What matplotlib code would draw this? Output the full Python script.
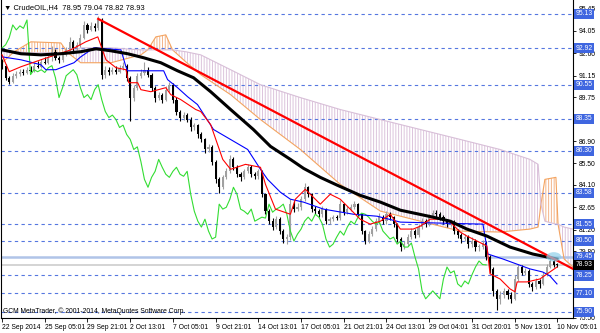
import matplotlib.pyplot as plt
from matplotlib.patches import Ellipse
from matplotlib.transforms import blended_transform_factory
import numpy as np

# H4 candles, bar index 0 = 22 Sep 2014
closes = [
    91.79, 91.01, 90.76, 91.14, 91.27, 91.40, 91.30, 91.53, 91.45, 91.79,
    91.70, 92.04, 91.95, 92.36, 92.69, 92.30, 92.17, 92.49, 92.81, 93.33,
    92.94, 93.14, 93.59, 94.42, 94.10, 94.36, 94.20, 94.74, 91.21, 91.53,
    91.40, 91.53, 91.35, 91.66, 91.79, 91.01, 89.73, 90.37, 91.14, 91.34,
    91.53, 91.21, 90.37, 89.73, 89.92, 89.60, 90.24, 90.56, 89.60, 88.83,
    88.44, 88.60, 88.31, 87.80, 87.95, 87.35, 87.03, 86.38, 86.55, 85.60,
    84.45, 83.94, 84.58, 84.97, 85.74, 85.23, 84.78, 84.58, 84.97, 85.23,
    84.78, 84.65, 84.97, 83.49, 82.40, 81.75, 81.37, 81.88, 81.11, 80.60,
    80.72, 82.85, 82.53, 82.65, 83.17, 83.94, 83.49, 82.53, 82.40, 82.20,
    82.53, 81.75, 81.88, 82.01, 81.95, 82.85, 82.33, 82.53, 82.65, 82.85,
    82.20, 81.11, 80.47, 80.92, 81.24, 81.75, 82.01, 81.75, 82.20, 82.01,
    81.56, 80.60, 80.08, 80.27, 80.72, 81.11, 80.85, 81.37, 81.75, 81.56,
    82.01, 82.27, 82.20, 82.01, 81.75, 81.56, 81.70, 81.11, 80.85, 80.60,
    80.72, 80.27, 80.47, 80.08, 80.08, 80.34, 79.44, 78.67, 77.25, 76.74,
    76.99, 77.25, 76.99, 76.74, 78.02, 78.79, 78.41, 78.54, 77.70, 77.51,
    77.89, 77.70, 78.28, 78.79, 79.18, 78.95, 78.93]
highs = [
    92.20, 91.90, 91.15, 91.30, 91.45, 91.55, 91.60, 91.70, 91.80, 92.00,
    92.10, 92.25, 92.35, 92.55, 93.05, 92.85, 92.40, 92.65, 93.00, 93.65,
    93.45, 93.35, 93.85, 94.65, 94.55, 94.60, 94.55, 94.99, 94.85, 91.75,
    91.70, 91.70, 91.75, 91.85, 92.00, 91.90, 91.10, 90.55, 91.30, 91.55,
    92.05, 91.70, 91.30, 90.50, 90.10, 90.05, 90.45, 90.75, 90.65, 89.75,
    88.95, 88.80, 88.75, 88.45, 88.10, 88.05, 87.50, 87.15, 86.75, 86.65,
    85.70, 84.60, 84.75, 85.20, 86.00, 85.90, 85.35, 84.90, 85.15, 85.45,
    85.35, 84.95, 85.15, 85.05, 83.60, 82.55, 81.95, 82.10, 82.00, 81.25,
    80.95, 83.20, 83.05, 82.90, 83.40, 84.20, 84.05, 83.60, 82.70, 82.55,
    82.75, 82.60, 82.05, 82.15, 82.15, 83.10, 82.95, 82.75, 82.85, 83.05,
    82.95, 82.30, 81.20, 81.10, 81.45, 81.95, 82.25, 82.15, 82.40, 82.35,
    82.10, 81.65, 80.70, 80.50, 80.90, 81.30, 81.25, 81.55, 81.95, 81.90,
    82.20, 82.50, 82.45, 82.35, 82.15, 81.90, 81.85, 81.80, 81.25, 81.00,
    80.95, 80.85, 80.70, 80.60, 80.30, 80.55, 80.45, 79.55, 78.80, 77.40,
    77.25, 77.45, 77.35, 77.15, 78.30, 79.00, 78.95, 78.75, 78.65, 77.85,
    78.10, 78.00, 78.50, 79.00, 79.40, 79.30, 79.04]
lows = [
    91.60, 90.85, 90.60, 90.65, 91.00, 91.15, 91.20, 91.25, 91.40, 91.40,
    91.65, 91.65, 91.90, 91.90, 92.10, 92.15, 91.95, 92.05, 92.40, 92.70,
    92.75, 92.80, 93.00, 93.50, 93.90, 94.00, 94.05, 94.10, 90.95, 91.00,
    91.20, 91.25, 91.25, 91.30, 91.50, 90.80, 88.20, 89.50, 90.20, 91.00,
    91.20, 91.05, 90.15, 89.45, 89.55, 89.40, 89.50, 90.10, 89.40, 88.60,
    88.25, 88.30, 88.15, 87.60, 87.65, 87.15, 86.85, 86.15, 86.20, 85.40,
    84.20, 83.60, 83.80, 84.45, 84.85, 85.05, 84.60, 84.35, 84.45, 84.85,
    84.60, 84.45, 84.50, 83.30, 82.20, 81.55, 81.15, 81.25, 80.90, 80.35,
    80.30, 80.55, 82.35, 82.40, 82.50, 83.05, 83.30, 82.35, 82.20, 82.00,
    82.05, 81.55, 81.60, 81.75, 81.80, 81.85, 82.15, 82.20, 82.40, 82.55,
    82.00, 80.90, 80.25, 80.35, 80.80, 81.10, 81.60, 81.55, 81.60, 81.85,
    81.35, 80.40, 79.85, 79.95, 80.15, 80.60, 80.65, 80.75, 81.25, 81.40,
    81.45, 81.90, 82.00, 81.80, 81.55, 81.35, 81.45, 80.90, 80.65, 80.35,
    80.45, 80.05, 80.10, 79.85, 79.85, 79.95, 79.25, 78.40, 76.95, 76.00,
    76.40, 76.80, 76.75, 76.50, 76.65, 77.90, 78.25, 78.30, 77.50, 77.25,
    77.40, 77.45, 77.60, 78.20, 78.70, 78.80, 78.82]
first_open = 92.04
last_open = 78.95

# indicator lines (bar position, price)
ma_x = [0, 5.3, 10.9, 16.5, 22.1, 26.4, 30.6, 35.3, 39.8, 44.6, 49.3, 53.8, 58.6,
        64.2, 70.6, 75.4, 81.0, 84.7, 89.4, 94.2, 100.6, 106.3, 111.9, 121.1,
        125.9, 130.6, 136.2, 142.7, 149.1, 153.1, 155.9]
ma_y = [92.81, 92.56, 92.49, 92.56, 92.69, 92.88, 92.75, 92.56, 92.30, 91.98, 91.46,
        91.01, 90.11, 88.96, 87.67, 86.58, 85.74, 85.16, 84.58, 84.07, 83.42, 82.98,
        82.46, 82.01, 81.75, 81.24, 80.79, 80.08, 79.63, 79.44, 79.31]

tenkan_x = [0, 2.0, 5.3, 10.9, 15.1, 19.3, 23.5, 26.9, 28.0, 29.2, 32.0, 34.8, 35.6,
            38.1, 39.0, 41.8, 46.0, 47.4, 50.2, 54.4, 55.8, 58.6, 62.0, 64.2, 68.4,
            72.6, 74.0, 76.8, 81.0, 82.4, 85.2, 88.0, 89.4, 92.2, 95.0, 97.8, 100.6,
            103.4, 106.3, 109.1, 111.9, 115.5, 117.5, 120.3, 123.9, 125.9, 128.7,
            130.6, 136.2, 137.1, 139.9, 142.7, 144.1, 144.7, 147.5, 151.1, 153.9, 155.9]
tenkan_y = [92.49, 91.40, 91.72, 92.17, 92.49, 92.81, 93.33, 93.65, 92.94, 92.17,
            91.66, 91.53, 90.69, 90.69, 90.24, 90.11, 90.37, 89.92, 89.60, 88.96,
            88.83, 87.99, 85.74, 85.10, 85.42, 85.23, 84.13, 82.53, 82.20, 83.17,
            83.81, 83.17, 82.85, 83.49, 83.17, 82.53, 81.88, 81.56, 81.75, 82.20,
            81.24, 81.24, 81.43, 81.88, 81.88, 81.69, 81.05, 80.79, 80.15, 78.35,
            78.02, 77.38, 77.19, 77.83, 77.83, 78.02, 78.47, 78.79]

kijun_x = [0, 5.3, 10.9, 12.3, 15.1, 20.2, 22.1, 25.8, 33.4, 34.8, 35.3, 45.4, 46.5,
           49.3, 52.1, 54.9, 59.4, 69.0, 72.6, 74.6, 78.2, 81.0, 84.7, 90.3, 98.7,
           105.4, 111.9, 135.1, 136.5, 140.7, 148.3, 151.9, 153.9, 155.9]
kijun_y = [92.36, 92.17, 91.85, 91.53, 91.53, 91.98, 92.36, 92.94, 92.81, 91.72,
           91.46, 91.46, 90.89, 90.37, 89.79, 89.28, 87.67, 86.38, 85.10, 84.45,
           83.62, 83.17, 82.98, 82.53, 82.20, 82.07, 81.69, 81.56, 79.63, 79.31,
           78.67, 78.47, 78.22, 77.70]

cloud_x = [0, 3.4, 8.1, 16.5, 18.5, 22.1, 30.6, 39.0, 40.9, 43.2, 46.0, 47.9, 51.6,
           55.8, 64.2, 72.6, 83.8, 95.0, 106.3, 117.5, 128.7, 139.9, 148.3, 150.6,
           151.4, 152.5, 155.6, 156.2, 157.9, 160.4]
span_a = [91.98, 92.69, 93.33, 93.26, 92.62, 91.98, 91.98, 92.49, 92.81, 93.65,
          93.78, 92.81, 92.04, 91.21, 89.92, 88.31, 86.38, 84.13, 82.40, 81.75,
          81.11, 81.05, 81.24, 81.37, 82.85, 84.45, 84.58, 81.56, 79.31, 78.79]
span_b = [92.69, 92.69, 92.62, 92.62, 92.62, 92.94, 92.94, 92.81, 92.81, 92.81,
          92.81, 92.81, 92.69, 92.49, 91.53, 90.56, 89.73, 88.96, 88.31, 87.67,
          87.03, 86.38, 85.74, 85.42, 82.85, 81.75, 81.56, 81.56, 81.37, 81.24]
chikou_shift = 20

trend_x = [27, 160.4]
trend_y = [94.81, 78.67]

dash_levels = [95.13, 92.92, 90.55, 88.35, 86.30, 83.58, 81.55, 80.50, 78.25, 77.10, 75.90]
solid_level = 79.45
price_ticks = [95.45, 94.05, 92.60, 91.15, 89.75, 88.35, 86.90, 85.50, 84.10, 82.65,
               81.20, 79.80, 78.35, 76.95, 75.50]
hidden_ticks = [88.35, 78.35, 76.95]
time_labels = ["22 Sep 2014", "25 Sep 05:01", "29 Sep 21:01", "2 Oct 13:01",
               "7 Oct 05:01", "9 Oct 21:01", "14 Oct 13:01", "17 Oct 05:01",
               "21 Oct 21:01", "24 Oct 13:01", "29 Oct 04:01", "31 Oct 20:01",
               "5 Nov 13:01", "10 Nov 05:01"]
bars_per_label = 12

plt.rcParams['font.family'] = ['Liberation Sans', 'DejaVu Sans']
plt.rcParams['hatch.linewidth'] = 0.7
fs = 4.9

fig = plt.figure(figsize=(6, 3.33), dpi=100)
ax = fig.add_axes([1 / 600, 15 / 333, 572 / 600, 318 / 333])

n = len(closes)
x = np.arange(n)
o = np.array([first_open] + closes[:-1])
o[-1] = last_open
c = np.array(closes)
h = np.array(highs)
l = np.array(lows)

# ichimoku cloud
a = np.array(span_a)
b = np.array(span_b)
ax.fill_between(cloud_x, a, b, where=a >= b, interpolate=True, facecolor='none',
                edgecolor='#f3b48a', hatch='|' * 6, linewidth=0, zorder=1)
ax.fill_between(cloud_x, a, b, where=a < b, interpolate=True, facecolor='none',
                edgecolor='#dcc4dc', hatch='|' * 6, linewidth=0, zorder=1)
ax.plot(cloud_x, span_a, color='#f4a460', lw=0.8, zorder=2)
ax.plot(cloud_x, span_b, color='#d8bfd8', lw=0.8, zorder=2)

# level lines
for lv in dash_levels:
    ax.axhline(lv, color='#5577e0', lw=0.8, ls=(0, (3, 3)), zorder=1.5)
ax.axhline(solid_level, color='#b0c4e8', lw=1.8, zorder=1.5)
ax.axhline(closes[-1], color='#d4d4d4', lw=1.4, zorder=1.5)

# candles
up = c >= o
for mask, col in [(up, '#a0a0a0'), (~up, '#000000')]:
    ax.vlines(x[mask], l[mask], h[mask], color=col, lw=0.8, zorder=3)
    ax.bar(x[mask], np.maximum(np.abs(c - o)[mask], 0.04), bottom=np.minimum(o, c)[mask],
           width=0.6, color=col, linewidth=0, zorder=3)

# indicator lines
ax.plot(x[:n - chikou_shift], closes[chikou_shift:], color='#33dd33', lw=0.8, zorder=4)
ax.plot(kijun_x, kijun_y, color='#0000ff', lw=0.8, zorder=4)
ax.plot(tenkan_x, tenkan_y, color='#ff0000', lw=0.8, zorder=4)
ax.plot(ma_x, ma_y, color='black', lw=2.2, zorder=5)
ax.plot(trend_x, trend_y, color='#ff0000', lw=1.6, zorder=6)
ax.add_patch(Ellipse((155, 79.45), 4.2, 0.6, color='#8fd0ea', alpha=0.7, lw=0, zorder=6))

ax.set_xlim(-0.3, 160.4)
ax.set_ylim(75.50, 96.03)

ax.spines['top'].set_visible(False)
for side in ['left', 'right', 'bottom']:
    ax.spines[side].set_linewidth(0.8)

ax.yaxis.tick_right()
ax.set_yticks(price_ticks)
ax.set_yticklabels(["" if t in hidden_ticks else f"{t:.2f}" for t in price_ticks])
ax.tick_params(axis='y', direction='out', length=2.5, width=0.6, pad=1.5, labelsize=fs)

ax.set_xticks([i * bars_per_label for i in range(len(time_labels))])
ax.set_xticklabels(time_labels)
for lbl in ax.get_xticklabels():
    lbl.set_horizontalalignment('left')
ax.tick_params(axis='x', direction='out', length=3, width=0.6, pad=1.5, labelsize=fs)

# highlighted level labels on the price scale
tr = blended_transform_factory(ax.transAxes, ax.transData)
for lv in dash_levels + [solid_level]:
    ax.text(1.004, lv, f"{lv:.2f}", transform=tr, ha='left', va='center', fontsize=fs,
            color='white', clip_on=False, zorder=10,
            bbox=dict(boxstyle='square,pad=0.25', fc='#3f66e0', ec='none'))
ax.text(1.004, closes[-1], f"{closes[-1]:.2f}", transform=tr, ha='left', va='center',
        fontsize=fs, color='white', clip_on=False, zorder=11,
        bbox=dict(boxstyle='square,pad=0.25', fc='black', ec='none'))

ax.text(0.006, 0.975, f"\u25bc CrudeOIL,H4  {last_open:.2f} {highs[-1]:.2f} {lows[-1]:.2f} {closes[-1]:.2f}",
        transform=ax.transAxes, fontsize=5.4, va='center', ha='left', zorder=12)
ax.text(0.004, 0.022, "GCM MetaTrader, \u00a9 2001-2014, MetaQuotes Software Corp.",
        transform=ax.transAxes, fontsize=fs, va='center', ha='left', zorder=12)

fig.savefig('out.png', dpi=100)
